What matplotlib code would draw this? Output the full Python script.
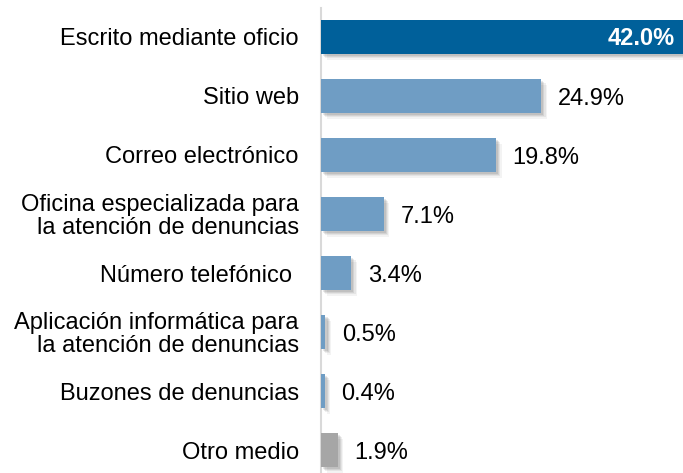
import matplotlib
matplotlib.use("Agg")
import matplotlib.pyplot as plt
import matplotlib.patheffects as pe

categories = ["Escrito mediante oficio", "Sitio web", "Correo electrónico",
              "Oficina especializada para\nla atención de denuncias",
              "Número telefónico ",
              "Aplicación informática para\nla atención de denuncias",
              "Buzones de denuncias", "Otro medio"]
values = [42.0, 24.9, 19.8, 7.1, 3.4, 0.5, 0.4, 1.9]
labels = ["42.0%", "24.9%", "19.8%", "7.1%", "3.4%", "0.5%", "0.4%", "1.9%"]
colors = ["#00609A", "#6F9DC4", "#6F9DC4", "#6F9DC4", "#6F9DC4", "#6F9DC4", "#6F9DC4", "#A6A6A6"]

plt.rcParams['font.family'] = ['Liberation Sans', 'DejaVu Sans']

fig = plt.figure(figsize=(6.83, 4.73), dpi=100)
W, H = 683, 473
ax = fig.add_axes([321 / W, 0, 362 / W, 1])
ax.set_xlim(0, 362 / 8.84)
n = len(values)
top = -37 / 59
bottom = (473 - 37) / 59
ax.set_ylim(bottom, top)
ypos = list(range(n))
bars = ax.barh(ypos, values, height=0.576, color=colors, zorder=3)
shadow = []
for off, a in [(4, 0.05), (3.2, 0.07), (2.4, 0.09), (1.6, 0.1)]:
    shadow.append(pe.SimplePatchShadow(offset=(off, -off), alpha=a, shadow_rgbFace="#222222"))
for b in bars:
    b.set_path_effects(shadow + [pe.Normal()])

for i, (v, lab) in enumerate(zip(values, labels)):
    if i == 0:
        ax.annotate(lab, xy=(1.0, i), xycoords=("axes fraction", "data"), xytext=(-6, -1),
                    textcoords="offset points", ha="right", va="center", color="white",
                    fontsize=17, fontweight="bold")
    else:
        ax.annotate(lab, xy=(v, i), xytext=(12, -2), textcoords="offset points",
                    ha="left", va="center", color="black", fontsize=17)

ax.set_yticks(ypos)
ax.set_yticklabels(categories, fontsize=17, linespacing=1.05)
ax.tick_params(axis="y", length=0, pad=16)
ax.set_xticks([])
for s in ["top", "right", "bottom"]:
    ax.spines[s].set_visible(False)
ax.spines["left"].set_color("#D9D9D9")
ax.spines["left"].set_linewidth(1.5)
ax.spines["left"].set_bounds((8 - 37) / 59, bottom)

fig.savefig("out.png", dpi=100)
